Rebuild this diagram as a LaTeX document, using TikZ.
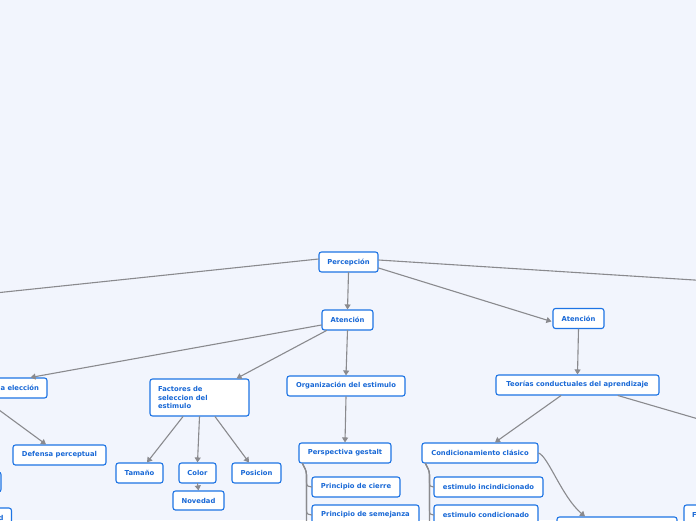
\documentclass[tikz,border=0pt]{standalone}
\usepackage{fontspec}
\setsansfont{DejaVu Sans}
\usetikzlibrary{arrows.meta,calc}

\definecolor{paper}{RGB}{242,245,253}
\definecolor{topicblue}{RGB}{30,116,228}
\definecolor{inkblue}{RGB}{24,104,214}
\definecolor{linkgray}{RGB}{138,138,142}

\tikzset{
  topic/.style={draw=topicblue, line width=1.1pt, rounded corners=2.5pt, fill=white,
    text=inkblue, font=\sffamily\bfseries\fontsize{6.8}{8.2}\selectfont,
    minimum height=20pt, inner xsep=8pt, inner ysep=0pt},
  link/.style={draw=linkgray, line width=1.1pt, line cap=round},
  arr/.style={link, -{Triangle[length=5pt,width=6pt]}},
}

% tree style branch: down from the parent's lower left corner, then into the child's left side
\newcommand{\treelink}[2]{%
  \draw[link] ([xshift=4pt]#1.south west)
    .. controls +(2,4) and +(0,-4) .. ++(4,11) coordinate (tl-a)
    -- ($(tl-a |- #2.west)+(0,-5)$)
    .. controls +(0,4) and +(-3,0) .. (#2.west);}

\begin{document}
\begin{tikzpicture}[x=1pt, y=-1pt]

  %% ==== fondo ====
  \fill[paper] (0,0) rectangle (696,520);

  %% ==== nodos ====
  \node[topic, minimum width=59pt] (perc) at (348.5,262) {Percepción};
  \node[topic, minimum width=51pt] (aten1) at (347.5,320) {Atención};
  \node[topic, minimum width=51pt] (aten2) at (578.5,318.5) {Atención};

  % rama izquierda (cortada por el borde)
  \node[topic, text width=91pt, align=right] (elec) at (-6.5,388) {a elección};
  \node[topic, minimum width=82pt] (edgeA) at (-40,482) {};
  \node[topic, text width=87pt, align=right] (edgeD) at (-40,518) {d};
  \node[topic, minimum width=93pt] (defensa) at (59.5,455) {Defensa perceptual};

  \node[topic, text width=83pt, align=left, minimum height=37pt] (fact) at (199.5,397.5)
    {Factores de\\ seleccion del\\ estimulo};
  \node[topic, minimum width=47pt] (tam) at (139.5,473) {Tamaño};
  \node[topic, minimum width=37pt] (color) at (197.5,473) {Color};
  \node[topic, minimum width=51pt, minimum height=19pt] (nov) at (198.5,500.5) {Novedad};
  \node[topic, minimum width=49pt] (pos) at (256.5,473) {Posicion};

  \node[topic, minimum width=118pt] (org) at (346,386) {Organización del estimulo};
  \node[topic, minimum width=92pt] (gest) at (345,453) {Perspectiva gestalt};
  \node[topic, minimum width=88pt] (cierre) at (356,487) {Principio de cierre};
  \node[topic, minimum width=107pt] (semej) at (365.5,515) {Principio de semejanza};

  \node[topic, minimum width=163pt] (teor) at (577.5,385) {Teorías conductuales del aprendizaje};
  \node[topic, minimum width=116pt] (cond) at (480,453) {Condicionamiento clásico};
  \node[topic, minimum width=109pt] (incond) at (488.5,487) {estimulo incindicionado};
  \node[topic, minimum width=104pt] (condic) at (486,515) {estimulo condicionado};
  \node[topic, minimum width=120pt] (bottomN) at (617,527) {};
  \node[topic, text width=56pt, align=left] (rightF) at (720,515) {F};

  %% ==== extremos libres (fuera del lienzo) ====
  \coordinate (offL) at (-100,303);
  \coordinate (offR) at (800,286.7);
  \coordinate (offTR) at (760,437);
  \coordinate (offG) at (312,545);
  \coordinate (offC) at (434,545);

  %% ==== conectores ====
  \draw[link] ([yshift=3pt]perc.west) -- (offL);
  \draw[link] ([yshift=2pt]perc.east) -- (offR);
  \draw[arr] ([yshift=-6pt]perc.east) -- ([xshift=-1pt,yshift=-3pt]aten2.west);
  \draw[arr] (perc.south) -- (aten1.north);

  \draw[arr] ([yshift=-5pt]aten1.west) -- ([xshift=-17pt]elec.north east);
  \draw[arr] ([xshift=5pt]aten1.south west) -- ([xshift=-13pt]fact.north east);
  \draw[arr] (aten1.south) -- (org.north);

  \draw[arr] ([xshift=-10pt]elec.south) -- ([xshift=-13.5pt]defensa.north);

  \draw[arr] ([xshift=-16.5pt]fact.south) -- ([xshift=7.5pt]tam.north);
  \draw[arr] (fact.south) -- (color.north);
  \draw[arr] ([xshift=15.5pt]fact.south) -- ([xshift=-7.5pt]pos.north);
  \draw[arr] (color.south) -- (nov.north);

  \draw[arr] (org.south) -- (gest.north);
  \treelink{gest}{cierre}
  \treelink{gest}{semej}
  \treelink{gest}{offG}

  \draw[arr] (aten2.south) -- (teor.north);
  \draw[arr] ([xshift=-16.5pt]teor.south) -- ([xshift=15pt]cond.north);
  \draw[link] ([xshift=40.5pt]teor.south) -- (offTR);
  \treelink{cond}{incond}
  \treelink{cond}{condic}
  \treelink{cond}{offC}
  \draw[arr] (cond.east) .. controls (548,456) and (562,497) .. ([xshift=-32pt]bottomN.north);

  % lienzo fijo
  \pgfresetboundingbox
  \path[use as bounding box] (0,0) rectangle (696,520);
\end{tikzpicture}
\end{document}
